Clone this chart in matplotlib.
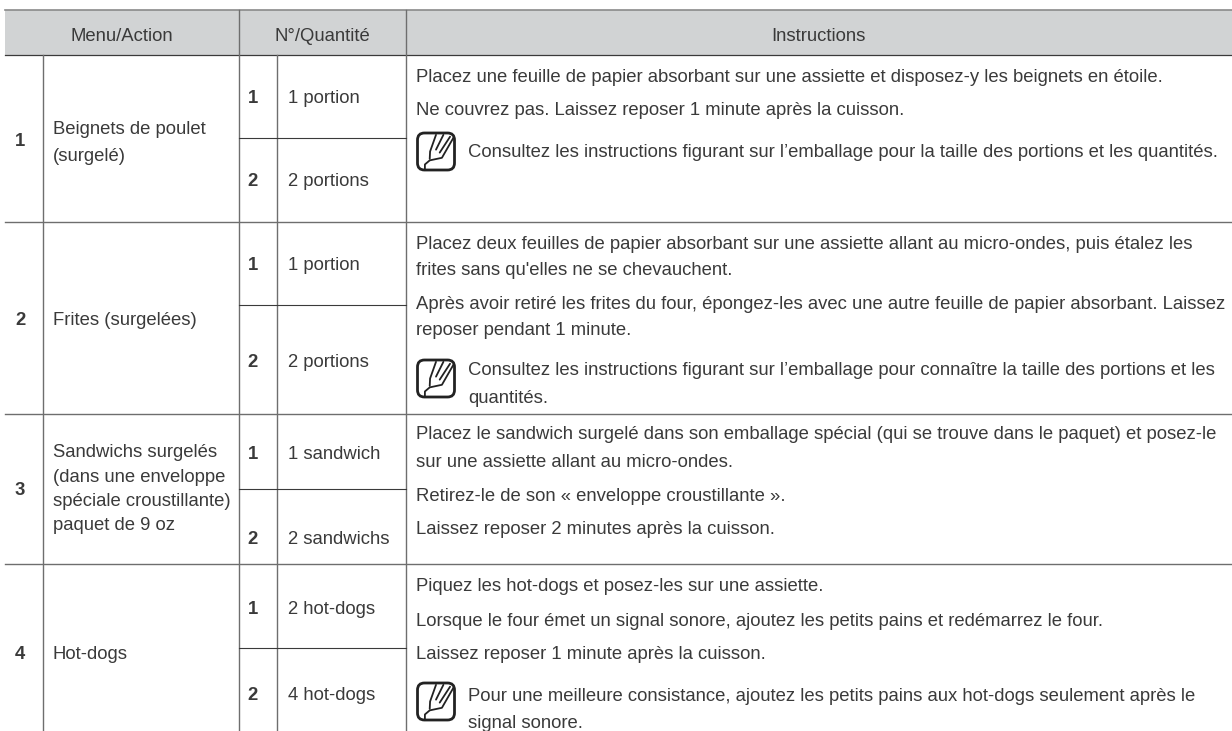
import matplotlib
matplotlib.use('Agg')
import matplotlib.pyplot as plt
from matplotlib.patches import FancyBboxPatch, Rectangle

W, H = 1232, 731

headers = ['Menu/Action', 'N°/Quantité', 'Instructions']
row_ids = ['1', '2', '3', '4']
menus = [['Beignets de poulet', '(surgelé)'], ['Frites (surgelées)'],
         ['Sandwichs surgelés', '(dans une enveloppe', 'spéciale croustillante)', 'paquet de 9 oz'], ['Hot-dogs']]
qty_ids = ['1', '2']
quantities = [['1 portion', '2 portions'], ['1 portion', '2 portions'],
              ['1 sandwich', '2 sandwichs'], ['2 hot-dogs', '4 hot-dogs']]
instructions = [
    ['Placez une feuille de papier absorbant sur une assiette et disposez-y les beignets en étoile.',
     'Ne couvrez pas. Laissez reposer 1 minute après la cuisson.'],
    ['Placez deux feuilles de papier absorbant sur une assiette allant au micro-ondes, puis étalez les',
     "frites sans qu'elles ne se chevauchent.",
     'Après avoir retiré les frites du four, épongez-les avec une autre feuille de papier absorbant. Laissez',
     'reposer pendant 1 minute.'],
    ['Placez le sandwich surgelé dans son emballage spécial (qui se trouve dans le paquet) et posez-le',
     'sur une assiette allant au micro-ondes.',
     'Retirez-le de son « enveloppe croustillante ».',
     'Laissez reposer 2 minutes après la cuisson.'],
    ['Piquez les hot-dogs et posez-les sur une assiette.',
     'Lorsque le four émet un signal sonore, ajoutez les petits pains et redémarrez le four.',
     'Laissez reposer 1 minute après la cuisson.'],
]
notes = [
    ['Consultez les instructions figurant sur l’emballage pour la taille des portions et les quantités.'],
    ['Consultez les instructions figurant sur l’emballage pour connaître la taille des portions et les', 'quantités.'],
    ['Pour une meilleure consistance, ajoutez les petits pains aux hot-dogs seulement après le', 'signal sonore.'],
]

# rozlozenie v pixeloch
x_left, x_menu, x_qty, x_qid, x_instr, x_right = 5, 43, 239, 277, 405.5, 1232
y_top, y_head = 10, 55
row_bots = [222, 414, 564, 731]
row_mids = [138, 304.5, 488.5, 648]
id_y = [139, 318, 488, 652]
menu_y = [[127, 154], [318], [450, 475, 499, 523], [652]]
qty_y = [[96, 179], [263, 360], [452, 537], [607, 693]]
instr_y = [[75, 108], [242, 268, 302, 328], [432, 460, 494, 527], [584, 619, 652]]
note_y = [[150], [368, 396], [694, 721]]
icon_y = [133, 360, 683]
icon_x, icon_size = 417.5, 37

TEXT = '#3a3a3a'
LINE = '#6e6e6e'
DARK = '#3a3a3a'
FS = 13.3

plt.rcParams['font.family'] = ['Liberation Sans', 'DejaVu Sans']


def label(x, y, s, ha='left', **kw):
    # y je stred riadku, text sa kladie na zakladnu liniu
    ax.text(x, y + 7, s, ha=ha, va='baseline', fontsize=FS, color=TEXT, **kw)


def draw_icon(x0, y0, s):
    ax.add_patch(FancyBboxPatch((x0, y0), s, s, boxstyle='round,pad=0,rounding_size=7',
                                fc='white', ec='#222222', lw=2.0, zorder=3))
    strokes = [
        [(0.50, 0.05), (0.34, 0.50), (0.33, 0.70)],
        [(0.97, 0.13), (0.66, 0.67), (0.33, 0.74), (0.20, 0.85), (0.20, 1.0)],
        [(0.70, 0.05), (0.50, 0.45)],
        [(0.88, 0.10), (0.60, 0.53)],
    ]
    for pts in strokes:
        ax.plot([x0 + p[0] * s for p in pts], [y0 + p[1] * s for p in pts],
                color='#222222', lw=1.3, zorder=4, solid_capstyle='round')


fig = plt.figure(figsize=(W / 100, H / 100), dpi=100)
ax = fig.add_axes([0, 0, 1, 1])
ax.set_xlim(0, W)
ax.set_ylim(H, 0)
ax.axis('off')

ax.add_patch(Rectangle((x_left, y_top), x_right - x_left, y_head - y_top, fc='#d1d3d4', ec='none'))
ax.plot([x_left, x_right], [y_top, y_top], color='#8a8a8a', lw=1.2)
ax.plot([x_left, x_right], [y_head, y_head], color=DARK, lw=0.9)

for x in [x_qty, x_instr]:
    ax.plot([x, x], [y_top, H], color=LINE, lw=1.0)
for x in [x_menu, x_qid]:
    ax.plot([x, x], [y_head, H], color=LINE, lw=1.0)
for y in row_bots[:-1]:
    ax.plot([x_left, x_right], [y, y], color=LINE, lw=1.0)
for y in row_mids:
    ax.plot([x_qty, x_instr], [y, y], color=DARK, lw=0.8)

label((x_left + x_qty) / 2, 34, headers[0], ha='center')
label((x_qty + x_instr) / 2, 34, headers[1], ha='center')
label((x_instr + x_right) / 2, 34, headers[2], ha='center')

for i in range(4):
    label(20, id_y[i], row_ids[i], ha='center', weight='bold')
    for y, line in zip(menu_y[i], menus[i]):
        label(53, y, line)
    for j in range(2):
        label(253, qty_y[i][j], qty_ids[j], ha='center', weight='bold')
        label(288, qty_y[i][j], quantities[i][j])
    for y, line in zip(instr_y[i], instructions[i]):
        label(416, y, line)

# poznamky s ikonou
for k in range(3):
    for y, line in zip(note_y[k], notes[k]):
        label(468, y, line)
    draw_icon(icon_x, icon_y[k], icon_size)

fig.savefig('out.png', dpi=100)
